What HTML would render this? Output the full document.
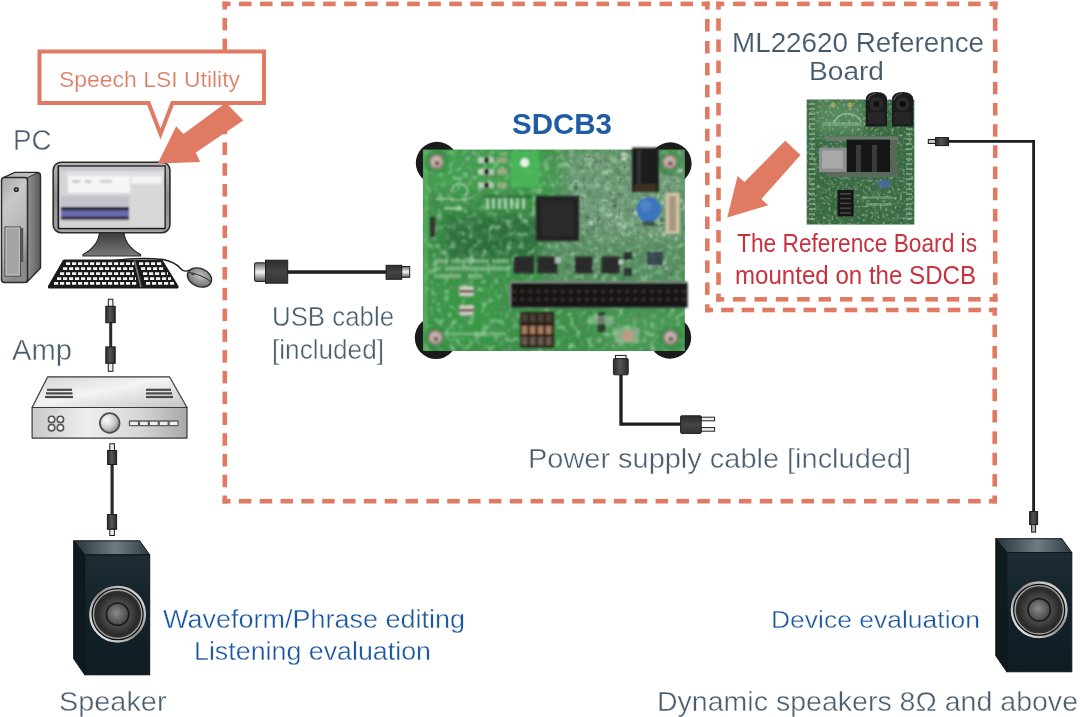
<!DOCTYPE html>
<html><head><meta charset="utf-8">
<style>
html,body{margin:0;padding:0;background:#fff;}
body{width:1080px;height:717px;overflow:hidden;position:relative;}
svg{position:absolute;left:0;top:0;}
text{font-family:"Liberation Sans",sans-serif;}
</style></head>
<body>
<svg width="1080" height="717" viewBox="0 0 1080 717">
<defs>
  <linearGradient id="gMetal" x1="0" y1="0" x2="1" y2="0">
    <stop offset="0" stop-color="#8a8a8a"/><stop offset="0.5" stop-color="#d8d8d8"/><stop offset="1" stop-color="#9a9a9a"/>
  </linearGradient>

  <linearGradient id="gFront" x1="0" y1="0" x2="0.3" y2="1">
    <stop offset="0" stop-color="#a8a8a8"/><stop offset="0.3" stop-color="#c8c8c8"/><stop offset="0.7" stop-color="#b4b4b4"/><stop offset="1" stop-color="#8a8a8a"/>
  </linearGradient>
  <linearGradient id="gSide" x1="0" y1="0" x2="1" y2="0">
    <stop offset="0" stop-color="#3a3a3a"/><stop offset="0.7" stop-color="#8a8a8a"/><stop offset="1" stop-color="#5a5a5a"/>
  </linearGradient>
  <linearGradient id="gBezel" x1="0" y1="0" x2="0" y2="1">
    <stop offset="0" stop-color="#b5b5b5"/><stop offset="0.5" stop-color="#8d8d8d"/><stop offset="1" stop-color="#a5a5a5"/>
  </linearGradient>
  <linearGradient id="gStand" x1="0" y1="0" x2="0" y2="1">
    <stop offset="0" stop-color="#3a3a3a"/><stop offset="1" stop-color="#7a7a7a"/>
  </linearGradient>
  <radialGradient id="gMouse" cx="0.5" cy="0.4" r="0.6">
    <stop offset="0" stop-color="#c4c4c4"/><stop offset="1" stop-color="#6e6e6e"/>
  </radialGradient>

  <linearGradient id="gAmpTop" x1="0" y1="0" x2="1" y2="1">
    <stop offset="0" stop-color="#d4d4d4"/><stop offset="0.45" stop-color="#f4f4f4"/><stop offset="1" stop-color="#c4c4c4"/>
  </linearGradient>
  <linearGradient id="gAmpFront" x1="0" y1="0" x2="1" y2="0">
    <stop offset="0" stop-color="#c8c8c8"/><stop offset="0.35" stop-color="#efefef"/><stop offset="0.7" stop-color="#d6d6d6"/><stop offset="1" stop-color="#a8a8a8"/>
  </linearGradient>
  <radialGradient id="gKnob" cx="0.35" cy="0.35" r="0.7">
    <stop offset="0" stop-color="#ffffff"/><stop offset="0.6" stop-color="#c9c9c9"/><stop offset="1" stop-color="#8a8a8a"/>
  </radialGradient>
  <linearGradient id="gSpkTop" x1="0" y1="0" x2="1" y2="0">
    <stop offset="0" stop-color="#26343a"/><stop offset="0.55" stop-color="#6f7d83"/><stop offset="1" stop-color="#2e3c42"/>
  </linearGradient>
  <linearGradient id="gSpkFront" x1="0" y1="0" x2="0" y2="1">
    <stop offset="0" stop-color="#1d2d33"/><stop offset="0.5" stop-color="#13222a"/><stop offset="1" stop-color="#0f1c22"/>
  </linearGradient>
  <radialGradient id="gCone" cx="0.5" cy="0.5" r="0.5">
    <stop offset="0" stop-color="#5a5a5a"/><stop offset="0.5" stop-color="#4a4a4a"/><stop offset="0.85" stop-color="#2a2a2a"/><stop offset="1" stop-color="#333"/>
  </radialGradient>
  <linearGradient id="gRing" x1="0" y1="1" x2="1" y2="0">
    <stop offset="0" stop-color="#ffffff"/><stop offset="0.5" stop-color="#8a8a8a"/><stop offset="1" stop-color="#f0f0f0"/>
  </linearGradient>
  <radialGradient id="gCap" cx="0.45" cy="0.45" r="0.6">
    <stop offset="0" stop-color="#8a8a8a"/><stop offset="1" stop-color="#404040"/>
  </radialGradient>
  <linearGradient id="gPlug" x1="0" y1="0" x2="1" y2="0">
    <stop offset="0" stop-color="#2c2c2c"/><stop offset="0.45" stop-color="#555"/><stop offset="1" stop-color="#2a2a2a"/>
  </linearGradient>
  <g id="spk">
    <path d="M0 0 L66 0 L76 14 L11 14 Z" fill="url(#gSpkTop)" stroke="#0c1418" stroke-width="1"/>
    <path d="M0 0 L11 14 L11 134 L0 118 Z" fill="#0e1a1e" stroke="#0c1418" stroke-width="1"/>
    <rect x="11" y="14" width="65" height="120" fill="url(#gSpkFront)" stroke="#0c1418" stroke-width="1"/>
    
  </g>

  <linearGradient id="gMetalV" x1="0" y1="0" x2="0" y2="1">
    <stop offset="0" stop-color="#6a6a6a"/><stop offset="0.5" stop-color="#f4f4f4"/><stop offset="1" stop-color="#5a5a5a"/>
  </linearGradient>
  <linearGradient id="gPlugV" x1="0" y1="0" x2="0" y2="1">
    <stop offset="0" stop-color="#2c2c2c"/><stop offset="0.5" stop-color="#444"/><stop offset="1" stop-color="#353535"/>
  </linearGradient>

  <filter id="blurB" x="-5%" y="-5%" width="110%" height="110%"><feGaussianBlur stdDeviation="1.0"/></filter>

  <filter id="blurR" x="-5%" y="-5%" width="110%" height="110%"><feGaussianBlur stdDeviation="0.6"/></filter>

  <clipPath id="clipB"><rect x="423" y="149.7" width="261.7" height="201.3"/></clipPath>
  <clipPath id="clipR"><rect x="806.7" y="99.6" width="107.6" height="124.9"/></clipPath>

  <filter id="blurBig" x="-20%" y="-20%" width="140%" height="140%"><feGaussianBlur stdDeviation="6"/></filter>
  <filter id="noiseDark" x="0" y="0" width="100%" height="100%">
    <feTurbulence type="fractalNoise" baseFrequency="0.14" numOctaves="2" seed="3"/>
    <feColorMatrix type="matrix" values="0 0 0 0 0.1  0 0 0 0 0.25  0 0 0 0 0.12  2.2 0 0 0 -1.05"/>
    <feGaussianBlur stdDeviation="0.9"/>
  </filter>
  <filter id="noiseLight" x="0" y="0" width="100%" height="100%">
    <feTurbulence type="fractalNoise" baseFrequency="0.16" numOctaves="2" seed="9"/>
    <feColorMatrix type="matrix" values="0 0 0 0 0.45  0 0 0 0 0.78  0 0 0 0 0.5  2.2 0 0 0 -1.15"/>
    <feGaussianBlur stdDeviation="0.9"/>
  </filter>
  <filter id="noiseLight2" x="0" y="0" width="100%" height="100%">
    <feTurbulence type="fractalNoise" baseFrequency="0.2" numOctaves="2" seed="21"/>
    <feColorMatrix type="matrix" values="0 0 0 0 0.8  0 0 0 0 0.88  0 0 0 0 0.8  2.0 0 0 0 -1.15"/>
    <feGaussianBlur stdDeviation="0.8"/>
  </filter>
  <filter id="noiseDark2" x="0" y="0" width="100%" height="100%">
    <feTurbulence type="fractalNoise" baseFrequency="0.22" numOctaves="2" seed="33"/>
    <feColorMatrix type="matrix" values="0 0 0 0 0.12  0 0 0 0 0.2  0 0 0 0 0.14  2.6 0 0 0 -1.3"/>
    <feGaussianBlur stdDeviation="0.7"/>
  </filter>
  <filter id="noiseFine" x="0" y="0" width="100%" height="100%">
    <feTurbulence type="fractalNoise" baseFrequency="0.35" numOctaves="1" seed="5"/>
    <feColorMatrix type="matrix" values="0 0 0 0 0.6  0 0 0 0 0.78  0 0 0 0 0.62  2.4 0 0 0 -1.3"/>
    <feGaussianBlur stdDeviation="0.6"/>
  </filter>
<g id="drv"><circle cx="0" cy="0" r="28.6" fill="#0e0e0e"/>
    <circle cx="0" cy="0" r="27.3" fill="none" stroke="url(#gRing)" stroke-width="2.4"/>
    <circle cx="0" cy="0" r="24.2" fill="url(#gCone)" stroke="#a8a8a8" stroke-width="1.3"/>
    <circle cx="0" cy="0" r="11.2" fill="url(#gCap)" stroke="#1a1a1a" stroke-width="1.6"/></g>
  <clipPath id="clipScr"><rect x="59.2" y="166.8" width="105.2" height="61"/></clipPath>
  <filter id="blurS" x="-5%" y="-5%" width="110%" height="110%"><feGaussianBlur stdDeviation="0.8"/></filter>
</defs>


<!-- PC tower -->
<g id="tower">
  <path d="M3 178 L15 172.5 L38 172.5 Q40.5 173 40.5 176 L40.5 268 L27 282 Z" fill="url(#gSide)" stroke="#2a2a2a" stroke-width="1.4" stroke-linejoin="round"/>
  <path d="M3 178 L15 172.5 L38 172.5 L27 178 Z" fill="#bcbcbc" stroke="#2a2a2a" stroke-width="1"/>
  <rect x="1.5" y="177.5" width="26" height="105" rx="3" fill="url(#gFront)" stroke="#2a2a2a" stroke-width="1.5"/>
  <circle cx="16.3" cy="189.5" r="2.6" fill="#2a2a2a"/>
  <circle cx="16.3" cy="189.5" r="1" fill="#999"/>
  <rect x="5" y="227" width="15.3" height="49" fill="#a4a4a4" stroke="#3a3a3a" stroke-width="1"/><rect x="6" y="228" width="13.3" height="47" fill="none" stroke="#d8d8d8" stroke-width="0.8"/>
  <rect x="21" y="228" width="2.2" height="34" fill="#555"/>
</g>
<!-- monitor -->
<g id="monitor">
  <path d="M99.6 232 L123.9 232 Q125 246 140.5 254.5 L140.5 256 L83 256 L83 254.5 Q98.5 246 99.6 232 Z" fill="url(#gStand)" stroke="#2a2a2a" stroke-width="1.2"/>
  <rect x="53.2" y="162.2" width="116.7" height="70.5" rx="8" fill="url(#gBezel)" stroke="#2a2a2a" stroke-width="1.6"/>
  <rect x="57.5" y="165.3" width="108.3" height="64" fill="#1e1e1e"/>
  <rect x="59.2" y="166.8" width="105.2" height="61" fill="#d4d4d8"/>
  <g clip-path="url(#clipScr)"><g filter="url(#blurS)">
  <rect x="59" y="166" width="106" height="5" fill="#c4c4cc"/>
  <rect x="66" y="171" width="98" height="5" fill="#dedee4"/>
  <rect x="68" y="176" width="62" height="17" fill="#f6f6f6"/>
  <rect x="72" y="180" width="8" height="3" fill="#c8c8c8"/><rect x="85" y="180" width="6" height="3" fill="#c8c8c8"/><rect x="100" y="180" width="12" height="3" fill="#d0d0d0"/>
  <rect x="131" y="176" width="31" height="8" fill="#f2f2f2"/>
  <rect x="130" y="186" width="34" height="40" fill="#d8d8d6"/>
  <rect x="61" y="196" width="68" height="10" fill="#c2c2cc"/>
  <rect x="61" y="207" width="68" height="13" fill="#22222e"/>
  <rect x="61" y="210.3" width="68" height="6.4" fill="#6a6ab0"/>
  <rect x="61" y="220" width="68" height="7" fill="#d4d4d6"/>
  </g></g>
</g>
<!-- keyboard -->
<g id="keyboard">
  <path d="M63.5 260 L162 260 L178 286 L178 288 L48.5 288 L48.5 286 Z" fill="#1a1a1a" stroke="#1a1a1a" stroke-width="1" stroke-linejoin="round"/>
  <g stroke="#f2f2f2" stroke-width="2.6" stroke-dasharray="4.2 1.8">
    <line x1="66" y1="263.6" x2="134" y2="263.6"/>
    <line x1="63" y1="268.6" x2="134" y2="268.6"/>
    <line x1="60" y1="273.6" x2="134" y2="273.6"/>
    <line x1="57" y1="278.6" x2="136" y2="278.6"/>
    <line x1="54" y1="283.4" x2="137" y2="283.4"/>
    <line x1="139" y1="263.6" x2="162" y2="263.6"/>
    <line x1="141" y1="268.6" x2="165" y2="268.6"/>
    <line x1="143" y1="273.6" x2="168" y2="273.6"/>
    <line x1="144" y1="278.6" x2="171" y2="278.6"/>
    <line x1="146" y1="283.4" x2="174" y2="283.4"/>
  </g>
  <path d="M134.5 260.5 L141 287" stroke="#777" stroke-width="1.6"/>
</g>
<!-- mouse -->
<path d="M114 260.5 Q140 257 163 259.5 Q175 262 180 268 Q184 273 189 270" fill="none" stroke="#1a1a1a" stroke-width="1.3"/>
<g transform="rotate(22 199.5 277.5)">
  <ellipse cx="199.5" cy="277.5" rx="12.5" ry="9" fill="url(#gMouse)" stroke="#2a2a2a" stroke-width="1.4"/>
  <path d="M187.5 277 Q199 274 211.5 277" fill="none" stroke="#333" stroke-width="0.9"/>
  <ellipse cx="192" cy="276.5" rx="2" ry="1.2" fill="#444"/>
</g>


<!-- cable PC-amp -->
<g stroke="#1a1a1a" stroke-width="1">
  <rect x="109.2" y="322" width="3" height="25" fill="#2a2a2a" stroke="none"/>
  <rect x="108.3" y="299.2" width="4.6" height="7.4" fill="#eee"/>
  <rect x="105.8" y="306.3" width="9.4" height="16.4" fill="url(#gPlug)"/>
  <rect x="105.8" y="346.9" width="9.4" height="16.4" fill="url(#gPlug)"/>
  <rect x="108.3" y="363.3" width="4.6" height="8" fill="#eee"/>
</g>
<!-- amp -->
<g id="amp" stroke="#3a3a3a" stroke-width="1.2" stroke-linejoin="round">
  <path d="M47.7 376.8 L169.5 376.8 L187 407.5 L32.1 407.5 Z" fill="url(#gAmpTop)"/>
  <rect x="32.1" y="407.5" width="154.9" height="30.6" fill="url(#gAmpFront)"/>
  <g stroke="#4a4a4a" stroke-width="2.2">
    <line x1="47" y1="389.8" x2="72" y2="389.8"/><line x1="46" y1="393.4" x2="72.5" y2="393.4"/><line x1="45" y1="397" x2="73" y2="397"/>
    <line x1="146" y1="389.8" x2="171" y2="389.8"/><line x1="146" y1="393.4" x2="172" y2="393.4"/><line x1="146" y1="397" x2="173" y2="397"/>
  </g>
  <g fill="#f4f4f4" stroke="#555" stroke-width="1.6">
    <circle cx="51.6" cy="419.4" r="3.2"/><circle cx="60.4" cy="419.4" r="3.2"/>
    <circle cx="51.6" cy="427.7" r="3.2"/><circle cx="60.4" cy="427.7" r="3.2"/>
  </g>
  <circle cx="109.7" cy="423" r="9.8" fill="url(#gKnob)" stroke="#505050" stroke-width="1.8"/>
  <g fill="#f0f0f0" stroke="#5a5a5a" stroke-width="1.3">
    <rect x="129.5" y="421" width="9" height="4.6"/><rect x="139.4" y="421" width="9" height="4.6"/>
    <rect x="149.3" y="421" width="9" height="4.6"/><rect x="159.2" y="421" width="9" height="4.6"/>
    <rect x="169.1" y="421" width="9" height="4.6"/>
  </g>
</g>
<!-- cable amp-speaker -->
<g stroke="#1a1a1a" stroke-width="1">
  <rect x="110.5" y="464" width="3.2" height="51" fill="#2a2a2a" stroke="none"/>
  <rect x="109.8" y="443.8" width="4.6" height="6.8" fill="#eee"/>
  <rect x="107.6" y="450.5" width="9" height="14" fill="url(#gPlug)"/>
  <rect x="107.4" y="514.6" width="9.2" height="14.7" fill="url(#gPlug)"/>
  <rect x="109.8" y="529.3" width="4.6" height="6.2" fill="#eee"/>
</g>
<!-- speakers -->
<use href="#spk" transform="translate(73.7 540.8)"/><use href="#drv" transform="translate(117.6 614.2)"/>
<use href="#spk" transform="translate(995.8 538.7) scale(1 0.993)"/><use href="#drv" transform="translate(1039.2 609.8)"/>
<!-- cable refboard-speaker -->
<path d="M948 141.3 H1033.6 V512" fill="none" stroke="#1e1e1e" stroke-width="2.8"/>
<rect x="928.3" y="139.5" width="7.5" height="4" fill="#c4c4c4" stroke="#1a1a1a" stroke-width="1"/>
<rect x="935.5" y="137.6" width="13" height="8" fill="url(#gPlug)" stroke="#1a1a1a" stroke-width="1"/>
<rect x="1029.6" y="511.6" width="8" height="13" fill="url(#gPlug)" stroke="#1a1a1a" stroke-width="1"/>
<rect x="1031.6" y="524.5" width="4" height="7.6" fill="#aaa" stroke="#1a1a1a" stroke-width="1"/>


<!-- SDCB board -->
<g fill="#1b1b1b"><circle cx="437" cy="163" r="21.2"/><circle cx="670.4" cy="163.5" r="21.2"/><circle cx="436" cy="337.8" r="21.2"/><circle cx="670" cy="337.5" r="21.2"/></g><rect x="423" y="149.7" width="261.7" height="201.3" fill="#3a9046"/><g clip-path="url(#clipB)"><g filter="url(#blurBig)"><rect x="425" y="150" width="135" height="40" fill="#42a050"/><rect x="445" y="215" width="95" height="45" fill="#2c6e3a"/><rect x="565" y="150" width="120" height="90" fill="#6e9c76"/><rect x="545" y="238" width="140" height="44" fill="#55905e"/><rect x="430" y="285" width="75" height="60" fill="#379845"/><rect x="600" y="312" width="85" height="38" fill="#4a9a55"/></g><rect x="423" y="149.7" width="262" height="202" filter="url(#noiseDark)"/><rect x="423" y="149.7" width="262" height="202" filter="url(#noiseLight)"/><rect x="560" y="149.7" width="125" height="135" filter="url(#noiseLight2)" opacity="0.7"/><rect x="545" y="149.7" width="140" height="135" filter="url(#noiseDark2)"/><g filter="url(#blurB)"><rect x="423" y="149.7" width="5" height="201.3" fill="#5ab865" opacity="0.6"/><rect x="601.5" y="171.3" width="4.0" height="1.7" fill="#e8ece4" opacity="0.44"/><rect x="633.1" y="268.4" width="2.6" height="1.7" fill="#a8c8aa" opacity="0.43"/><rect x="573.1" y="206.3" width="4.5" height="1.8" fill="#3a5a40" opacity="0.65"/><rect x="633.1" y="159.9" width="3.8" height="1.6" fill="#3a5a40" opacity="0.42"/><rect x="666.7" y="189.1" width="2.4" height="1.8" fill="#2a4230" opacity="0.62"/><rect x="645.2" y="165.2" width="3.7" height="2.0" fill="#d0dcd0" opacity="0.62"/><rect x="569.7" y="159.6" width="2.6" height="3.2" fill="#a8c8aa" opacity="0.71"/><rect x="618.8" y="270.2" width="3.1" height="2.1" fill="#3a5a40" opacity="0.68"/><rect x="591.8" y="225.5" width="3.6" height="3.7" fill="#4a7a52" opacity="0.58"/><rect x="636.3" y="161.4" width="3.5" height="1.9" fill="#2a4230" opacity="0.46"/><rect x="621.7" y="157.0" width="4.0" height="3.4" fill="#e8ece4" opacity="0.72"/><rect x="661.8" y="195.5" width="3.1" height="2.7" fill="#a8c8aa" opacity="0.43"/><rect x="573.4" y="186.6" width="4.1" height="1.7" fill="#4a7a52" opacity="0.68"/><rect x="640.9" y="279.1" width="4.5" height="2.2" fill="#a8c8aa" opacity="0.75"/><rect x="604.3" y="272.4" width="3.1" height="3.0" fill="#a8c8aa" opacity="0.42"/><rect x="655.7" y="168.6" width="2.7" height="2.5" fill="#a8c8aa" opacity="0.43"/><rect x="616.8" y="222.3" width="4.7" height="3.5" fill="#e8ece4" opacity="0.51"/><rect x="612.7" y="197.9" width="4.7" height="3.9" fill="#3a5a40" opacity="0.43"/><rect x="580.5" y="236.3" width="2.0" height="3.6" fill="#3a5a40" opacity="0.51"/><rect x="562.5" y="205.6" width="3.1" height="2.9" fill="#3a5a40" opacity="0.68"/><rect x="624.9" y="231.1" width="4.0" height="1.6" fill="#4a7a52" opacity="0.72"/><rect x="609.9" y="203.1" width="2.3" height="3.1" fill="#d0dcd0" opacity="0.48"/><rect x="682.1" y="208.4" width="2.3" height="3.0" fill="#d0dcd0" opacity="0.40"/><rect x="580.5" y="165.0" width="3.1" height="1.6" fill="#3a5a40" opacity="0.65"/><rect x="580.1" y="184.3" width="3.0" height="2.4" fill="#d0dcd0" opacity="0.45"/><rect x="621.5" y="277.2" width="3.4" height="2.3" fill="#3a5a40" opacity="0.44"/><rect x="603.8" y="185.9" width="4.5" height="1.9" fill="#d0dcd0" opacity="0.48"/><rect x="678.1" y="198.3" width="4.1" height="3.8" fill="#e8ece4" opacity="0.52"/><rect x="640.4" y="163.6" width="4.5" height="2.8" fill="#3a5a40" opacity="0.54"/><rect x="589.2" y="221.3" width="3.5" height="3.1" fill="#e8ece4" opacity="0.72"/><rect x="682.2" y="261.1" width="4.4" height="3.5" fill="#4a7a52" opacity="0.72"/><rect x="586.4" y="215.1" width="4.2" height="4.0" fill="#2a4230" opacity="0.59"/><rect x="585.6" y="229.5" width="3.0" height="3.5" fill="#4a7a52" opacity="0.80"/><rect x="678.5" y="198.7" width="2.7" height="2.1" fill="#3a5a40" opacity="0.54"/><rect x="620.9" y="278.1" width="3.8" height="1.5" fill="#4a7a52" opacity="0.54"/><rect x="640.5" y="258.8" width="2.4" height="2.5" fill="#4a7a52" opacity="0.70"/><rect x="620.3" y="174.9" width="4.4" height="2.3" fill="#4a7a52" opacity="0.56"/><rect x="611.0" y="273.2" width="4.2" height="1.9" fill="#3a5a40" opacity="0.41"/><rect x="634.1" y="211.6" width="4.0" height="3.0" fill="#e8ece4" opacity="0.79"/><rect x="642.2" y="196.9" width="3.6" height="1.8" fill="#d0dcd0" opacity="0.72"/><rect x="650.6" y="165.2" width="4.2" height="1.8" fill="#3a5a40" opacity="0.73"/><rect x="587.7" y="184.2" width="2.9" height="2.1" fill="#e8ece4" opacity="0.53"/><rect x="628.4" y="258.8" width="2.2" height="3.3" fill="#a8c8aa" opacity="0.66"/><rect x="661.4" y="218.1" width="4.5" height="3.7" fill="#3a5a40" opacity="0.61"/><rect x="625.9" y="154.4" width="3.3" height="2.0" fill="#d0dcd0" opacity="0.71"/><rect x="580.3" y="170.1" width="3.9" height="1.8" fill="#d0dcd0" opacity="0.53"/><rect x="625.2" y="223.1" width="4.4" height="1.8" fill="#e8ece4" opacity="0.42"/><rect x="585.3" y="157.4" width="2.3" height="2.6" fill="#d0dcd0" opacity="0.70"/><rect x="673.3" y="208.7" width="3.8" height="2.8" fill="#e8ece4" opacity="0.48"/><rect x="595.8" y="217.0" width="4.4" height="2.8" fill="#3a5a40" opacity="0.68"/><rect x="668.9" y="272.6" width="2.8" height="2.9" fill="#3a5a40" opacity="0.74"/><rect x="578.7" y="167.6" width="3.3" height="1.7" fill="#3a5a40" opacity="0.57"/><rect x="587.9" y="190.8" width="2.4" height="3.4" fill="#4a7a52" opacity="0.66"/><rect x="606.7" y="184.4" width="2.4" height="2.7" fill="#4a7a52" opacity="0.78"/><rect x="610.6" y="214.4" width="5.0" height="3.6" fill="#3a5a40" opacity="0.68"/><rect x="683.3" y="203.7" width="3.3" height="2.4" fill="#d0dcd0" opacity="0.69"/><rect x="564.4" y="222.9" width="3.3" height="1.5" fill="#2a4230" opacity="0.61"/><rect x="598.0" y="275.0" width="2.3" height="3.8" fill="#3a5a40" opacity="0.79"/><rect x="574.8" y="186.0" width="2.1" height="3.4" fill="#2a4230" opacity="0.70"/><rect x="662.0" y="260.7" width="4.0" height="3.9" fill="#a8c8aa" opacity="0.46"/><rect x="674.1" y="225.0" width="4.1" height="1.7" fill="#d0dcd0" opacity="0.72"/><rect x="584.4" y="266.6" width="2.8" height="1.5" fill="#d0dcd0" opacity="0.72"/><rect x="572.2" y="261.6" width="2.2" height="3.7" fill="#a8c8aa" opacity="0.40"/><rect x="683.3" y="205.5" width="4.7" height="3.1" fill="#d0dcd0" opacity="0.61"/><rect x="591.1" y="166.0" width="2.5" height="1.6" fill="#3a5a40" opacity="0.77"/><rect x="638.7" y="220.0" width="2.6" height="2.6" fill="#4a7a52" opacity="0.47"/><rect x="604.3" y="154.3" width="2.8" height="1.5" fill="#4a7a52" opacity="0.60"/><rect x="681.3" y="217.8" width="2.7" height="2.6" fill="#4a7a52" opacity="0.73"/><rect x="614.7" y="215.4" width="4.5" height="2.5" fill="#e8ece4" opacity="0.52"/><rect x="588.3" y="181.4" width="2.6" height="3.7" fill="#4a7a52" opacity="0.65"/><rect x="611.4" y="196.5" width="2.2" height="1.8" fill="#d0dcd0" opacity="0.65"/><rect x="669.3" y="207.1" width="2.2" height="3.2" fill="#a8c8aa" opacity="0.75"/><rect x="643.8" y="188.1" width="2.7" height="2.2" fill="#a8c8aa" opacity="0.47"/><rect x="594.8" y="152.5" width="3.1" height="2.3" fill="#e8ece4" opacity="0.53"/><rect x="566.2" y="264.9" width="2.7" height="2.0" fill="#2a4230" opacity="0.55"/><rect x="619.9" y="216.4" width="2.6" height="2.8" fill="#d0dcd0" opacity="0.44"/><rect x="661.7" y="170.4" width="3.8" height="2.5" fill="#2a4230" opacity="0.52"/><rect x="590.4" y="227.0" width="3.6" height="3.4" fill="#4a7a52" opacity="0.76"/><rect x="657.7" y="228.4" width="4.3" height="3.3" fill="#a8c8aa" opacity="0.46"/><rect x="650.3" y="234.3" width="2.1" height="3.6" fill="#e8ece4" opacity="0.65"/><rect x="651.5" y="256.0" width="2.4" height="2.8" fill="#e8ece4" opacity="0.63"/><rect x="661.2" y="154.1" width="4.1" height="3.5" fill="#4a7a52" opacity="0.67"/><rect x="646.6" y="181.4" width="2.1" height="1.8" fill="#2a4230" opacity="0.78"/><rect x="607.9" y="209.8" width="2.2" height="1.5" fill="#e8ece4" opacity="0.67"/><rect x="621.7" y="152.4" width="4.4" height="3.4" fill="#e8ece4" opacity="0.76"/><rect x="573.2" y="219.3" width="4.2" height="2.7" fill="#d0dcd0" opacity="0.74"/><rect x="590.6" y="248.8" width="2.7" height="3.1" fill="#a8c8aa" opacity="0.60"/><rect x="608.7" y="213.3" width="4.1" height="3.4" fill="#e8ece4" opacity="0.65"/><rect x="586.2" y="228.8" width="3.0" height="3.1" fill="#4a7a52" opacity="0.52"/><rect x="631.3" y="153.6" width="2.2" height="2.2" fill="#4a7a52" opacity="0.44"/><rect x="588.6" y="214.7" width="4.1" height="2.2" fill="#a8c8aa" opacity="0.59"/><rect x="576.5" y="266.4" width="2.6" height="3.9" fill="#a8c8aa" opacity="0.41"/><rect x="618.0" y="256.9" width="4.9" height="2.6" fill="#2a4230" opacity="0.55"/><rect x="673.8" y="271.1" width="2.2" height="1.7" fill="#4a7a52" opacity="0.61"/><rect x="678.2" y="169.0" width="4.5" height="2.8" fill="#d0dcd0" opacity="0.68"/><rect x="590.2" y="266.9" width="3.5" height="1.6" fill="#d0dcd0" opacity="0.78"/><rect x="645.2" y="203.9" width="4.2" height="2.5" fill="#a8c8aa" opacity="0.53"/><rect x="664.5" y="152.2" width="4.3" height="3.6" fill="#d0dcd0" opacity="0.78"/><rect x="585.9" y="153.5" width="4.2" height="2.1" fill="#d0dcd0" opacity="0.56"/><rect x="683.9" y="227.4" width="3.1" height="2.6" fill="#2a4230" opacity="0.74"/><rect x="596.2" y="158.6" width="4.0" height="3.1" fill="#3a5a40" opacity="0.50"/><rect x="594.4" y="217.4" width="2.6" height="2.4" fill="#a8c8aa" opacity="0.75"/><rect x="661.1" y="232.8" width="4.7" height="3.9" fill="#e8ece4" opacity="0.48"/><rect x="571.8" y="271.5" width="3.2" height="3.0" fill="#3a5a40" opacity="0.66"/><rect x="596.9" y="158.3" width="4.8" height="1.8" fill="#a8c8aa" opacity="0.57"/><rect x="596.4" y="184.7" width="4.2" height="3.1" fill="#a8c8aa" opacity="0.66"/><rect x="598.7" y="223.3" width="3.2" height="1.9" fill="#3a5a40" opacity="0.43"/><rect x="623.1" y="255.9" width="3.7" height="2.6" fill="#2a4230" opacity="0.80"/><rect x="616.9" y="169.9" width="2.6" height="1.7" fill="#2a4230" opacity="0.62"/><rect x="601.0" y="199.1" width="4.4" height="2.0" fill="#d0dcd0" opacity="0.70"/><rect x="612.4" y="205.0" width="3.6" height="2.4" fill="#2a4230" opacity="0.70"/><rect x="622.8" y="225.5" width="3.1" height="3.2" fill="#e8ece4" opacity="0.65"/><rect x="667.3" y="179.6" width="2.8" height="2.1" fill="#a8c8aa" opacity="0.66"/><rect x="614.7" y="191.9" width="4.4" height="3.9" fill="#3a5a40" opacity="0.41"/><rect x="648.6" y="266.6" width="3.4" height="3.0" fill="#d0dcd0" opacity="0.43"/><rect x="675.5" y="270.8" width="3.6" height="2.7" fill="#a8c8aa" opacity="0.50"/><rect x="575.3" y="171.8" width="3.6" height="3.2" fill="#4a7a52" opacity="0.68"/><rect x="665.3" y="266.5" width="2.3" height="3.4" fill="#d0dcd0" opacity="0.71"/><rect x="590.4" y="269.7" width="3.9" height="2.3" fill="#3a5a40" opacity="0.65"/><rect x="626.4" y="208.0" width="4.3" height="1.7" fill="#2a4230" opacity="0.61"/><circle cx="436.5" cy="161.8" r="12" fill="#2f8e3e" opacity="0.7"/><circle cx="436.5" cy="161.8" r="7.8" fill="#8a7a74"/><circle cx="436.5" cy="161.8" r="5.8" fill="#c4b2aa"/><circle cx="437.0" cy="163.3" r="2.6" fill="#7a6660"/><circle cx="669.7" cy="162" r="12" fill="#2f8e3e" opacity="0.7"/><circle cx="669.7" cy="162" r="7.8" fill="#8a7a74"/><circle cx="669.7" cy="162" r="5.8" fill="#c4b2aa"/><circle cx="670.2" cy="163.5" r="2.6" fill="#7a6660"/><circle cx="435.5" cy="337.5" r="12" fill="#2f8e3e" opacity="0.7"/><circle cx="435.5" cy="337.5" r="7.8" fill="#8a7a74"/><circle cx="435.5" cy="337.5" r="5.8" fill="#c4b2aa"/><circle cx="436.0" cy="339.0" r="2.6" fill="#7a6660"/><circle cx="670.5" cy="337.5" r="12" fill="#2f8e3e" opacity="0.7"/><circle cx="670.5" cy="337.5" r="7.8" fill="#8a7a74"/><circle cx="670.5" cy="337.5" r="5.8" fill="#c4b2aa"/><circle cx="671.0" cy="339.0" r="2.6" fill="#7a6660"/><rect x="511" y="151" width="28" height="36" fill="#48b858" opacity="0.85"/><circle cx="524.7" cy="162.6" r="4.4" fill="#e8f4ea"/><rect x="478" y="157.1" width="8" height="6" fill="#d8d8d0" opacity="0.8"/><rect x="484" y="157.6" width="5" height="5" fill="#222"/><rect x="489" y="157.1" width="5" height="6" fill="#d8d8d0" opacity="0.7"/><rect x="497" y="157.1" width="10" height="6" fill="#c8b0a0" opacity="0.6"/><rect x="478" y="168.8" width="8" height="6" fill="#d8d8d0" opacity="0.8"/><rect x="484" y="169.3" width="5" height="5" fill="#222"/><rect x="489" y="168.8" width="5" height="6" fill="#d8d8d0" opacity="0.7"/><rect x="497" y="168.8" width="10" height="6" fill="#c8b0a0" opacity="0.6"/><rect x="478" y="182.2" width="8" height="6" fill="#d8d8d0" opacity="0.8"/><rect x="484" y="182.7" width="5" height="5" fill="#222"/><rect x="489" y="182.2" width="5" height="6" fill="#d8d8d0" opacity="0.7"/><rect x="497" y="182.2" width="10" height="6" fill="#c8b0a0" opacity="0.6"/><rect x="486.0" y="198" width="3" height="11" fill="#c8e4cc" opacity="0.75"/><rect x="492.0" y="198" width="3" height="11" fill="#c8e4cc" opacity="0.75"/><rect x="498.0" y="198" width="3" height="11" fill="#c8e4cc" opacity="0.75"/><rect x="504.0" y="198" width="3" height="11" fill="#c8e4cc" opacity="0.75"/><rect x="510.0" y="198" width="3" height="11" fill="#c8e4cc" opacity="0.75"/><rect x="516.0" y="198" width="3" height="11" fill="#c8e4cc" opacity="0.75"/><rect x="522.0" y="198" width="3" height="11" fill="#c8e4cc" opacity="0.75"/><rect x="482" y="195.5" width="50" height="3" fill="#1e5a28" opacity="0.6"/><path d="M452 193 a8 7 0 1 1 13 3" fill="none" stroke="#d0ecd4" stroke-width="1.3" opacity="0.8"/><path d="M436 199 h16 q10 3 22 -2" fill="none" stroke="#d0ecd4" stroke-width="1.3" opacity="0.7"/><rect x="430" y="217" width="5" height="20" fill="#3a3030"/><rect x="444" y="207" width="18" height="2.5" fill="#c0e0c0" opacity="0.7"/><rect x="434.5" y="259" width="2.6" height="4.2" fill="#cfe8d2" opacity="0.5"/><rect x="437.9" y="259" width="2.6" height="4.2" fill="#cfe8d2" opacity="0.5"/><rect x="441.3" y="259" width="2.6" height="4.2" fill="#cfe8d2" opacity="0.5"/><rect x="444.7" y="259" width="2.6" height="4.2" fill="#cfe8d2" opacity="0.5"/><rect x="451.6" y="259" width="2.6" height="4.2" fill="#cfe8d2" opacity="0.5"/><rect x="455.0" y="259" width="2.6" height="4.2" fill="#cfe8d2" opacity="0.5"/><rect x="458.4" y="259" width="2.6" height="4.2" fill="#cfe8d2" opacity="0.5"/><rect x="461.8" y="259" width="2.6" height="4.2" fill="#cfe8d2" opacity="0.5"/><rect x="465.2" y="259" width="2.6" height="4.2" fill="#cfe8d2" opacity="0.5"/><rect x="468.6" y="259" width="2.6" height="4.2" fill="#cfe8d2" opacity="0.5"/><rect x="472.0" y="259" width="2.6" height="4.2" fill="#cfe8d2" opacity="0.5"/><rect x="475.4" y="259" width="2.6" height="4.2" fill="#cfe8d2" opacity="0.5"/><rect x="478.8" y="259" width="2.6" height="4.2" fill="#cfe8d2" opacity="0.5"/><rect x="482.2" y="259" width="2.6" height="4.2" fill="#cfe8d2" opacity="0.5"/><rect x="485.6" y="259" width="2.6" height="4.2" fill="#cfe8d2" opacity="0.5"/><rect x="492.5" y="259" width="2.6" height="4.2" fill="#cfe8d2" opacity="0.5"/><rect x="495.9" y="259" width="2.6" height="4.2" fill="#cfe8d2" opacity="0.5"/><rect x="499.3" y="259" width="2.6" height="4.2" fill="#cfe8d2" opacity="0.5"/><rect x="502.7" y="259" width="2.6" height="4.2" fill="#cfe8d2" opacity="0.5"/><rect x="506.1" y="259" width="2.6" height="4.2" fill="#cfe8d2" opacity="0.5"/><rect x="434.5" y="266.5" width="2.6" height="4.2" fill="#cfe8d2" opacity="0.5"/><rect x="437.9" y="266.5" width="2.6" height="4.2" fill="#cfe8d2" opacity="0.5"/><rect x="444.8" y="266.5" width="2.6" height="4.2" fill="#cfe8d2" opacity="0.5"/><rect x="448.2" y="266.5" width="2.6" height="4.2" fill="#cfe8d2" opacity="0.5"/><rect x="451.6" y="266.5" width="2.6" height="4.2" fill="#cfe8d2" opacity="0.5"/><rect x="455.0" y="266.5" width="2.6" height="4.2" fill="#cfe8d2" opacity="0.5"/><rect x="458.4" y="266.5" width="2.6" height="4.2" fill="#cfe8d2" opacity="0.5"/><rect x="461.8" y="266.5" width="2.6" height="4.2" fill="#cfe8d2" opacity="0.5"/><rect x="465.2" y="266.5" width="2.6" height="4.2" fill="#cfe8d2" opacity="0.5"/><rect x="468.6" y="266.5" width="2.6" height="4.2" fill="#cfe8d2" opacity="0.5"/><rect x="472.0" y="266.5" width="2.6" height="4.2" fill="#cfe8d2" opacity="0.5"/><rect x="475.4" y="266.5" width="2.6" height="4.2" fill="#cfe8d2" opacity="0.5"/><rect x="478.8" y="266.5" width="2.6" height="4.2" fill="#cfe8d2" opacity="0.5"/><rect x="482.2" y="266.5" width="2.6" height="4.2" fill="#cfe8d2" opacity="0.5"/><rect x="485.6" y="266.5" width="2.6" height="4.2" fill="#cfe8d2" opacity="0.5"/><rect x="489.0" y="266.5" width="2.6" height="4.2" fill="#cfe8d2" opacity="0.5"/><rect x="492.4" y="266.5" width="2.6" height="4.2" fill="#cfe8d2" opacity="0.5"/><rect x="495.8" y="266.5" width="2.6" height="4.2" fill="#cfe8d2" opacity="0.5"/><rect x="499.2" y="266.5" width="2.6" height="4.2" fill="#cfe8d2" opacity="0.5"/><rect x="502.6" y="266.5" width="2.6" height="4.2" fill="#cfe8d2" opacity="0.5"/><rect x="506.0" y="266.5" width="2.6" height="4.2" fill="#cfe8d2" opacity="0.5"/><rect x="434.5" y="274" width="2.6" height="4.2" fill="#cfe8d2" opacity="0.5"/><rect x="437.9" y="274" width="2.6" height="4.2" fill="#cfe8d2" opacity="0.5"/><rect x="441.3" y="274" width="2.6" height="4.2" fill="#cfe8d2" opacity="0.5"/><rect x="444.7" y="274" width="2.6" height="4.2" fill="#cfe8d2" opacity="0.5"/><rect x="448.1" y="274" width="2.6" height="4.2" fill="#cfe8d2" opacity="0.5"/><rect x="451.5" y="274" width="2.6" height="4.2" fill="#cfe8d2" opacity="0.5"/><rect x="454.9" y="274" width="2.6" height="4.2" fill="#cfe8d2" opacity="0.5"/><rect x="458.3" y="274" width="2.6" height="4.2" fill="#cfe8d2" opacity="0.5"/><rect x="468.7" y="274" width="2.6" height="4.2" fill="#cfe8d2" opacity="0.5"/><rect x="472.1" y="274" width="2.6" height="4.2" fill="#cfe8d2" opacity="0.5"/><rect x="475.5" y="274" width="2.6" height="4.2" fill="#cfe8d2" opacity="0.5"/><rect x="478.9" y="274" width="2.6" height="4.2" fill="#cfe8d2" opacity="0.5"/><rect x="444" y="332" width="62" height="4" fill="#cfe8d2" opacity="0.3"/><rect x="536" y="196" width="43" height="45" fill="#222"/><rect x="541" y="201" width="33" height="35" fill="#2a2a2a"/><circle cx="648.7" cy="209.5" r="12.5" fill="#3b74bc"/><circle cx="646" cy="206" r="6" fill="#5a8ed0" opacity="0.6"/><rect x="643" y="221" width="12" height="5" fill="#333" opacity="0.7"/><rect x="665.5" y="192.7" width="14.2" height="41" fill="#d2c2a6"/><rect x="669" y="196" width="7" height="35" fill="#a89880"/><rect x="513.8" y="256.5" width="20.1" height="17" fill="#2a2a2a"/><rect x="537.3" y="256.5" width="20.0" height="17" fill="#2a2a2a"/><rect x="575" y="256.5" width="17.4" height="17" fill="#2a2a2a"/><rect x="601.4" y="256.5" width="18.0" height="17" fill="#2a2a2a"/><rect x="555" y="257" width="6" height="6" fill="#c0d0d0" opacity="0.8"/><rect x="619" y="260" width="4" height="4" fill="#e0e8e0" opacity="0.8"/><rect x="624" y="252" width="8" height="8" fill="#1e1e1e" opacity="0.8"/><rect x="624" y="268" width="8" height="8" fill="#1e1e1e" opacity="0.8"/><rect x="647" y="252" width="16" height="13" fill="#2a3448" opacity="0.8"/><rect x="520.2" y="312" width="33.7" height="35.6" fill="#2a2018"/><rect x="522.0" y="326" width="5.5" height="8" fill="#a87a5e"/><rect x="522.0" y="337" width="5.5" height="8" fill="#6a5a50"/><rect x="522.0" y="314" width="5.5" height="8" fill="#4a4038"/><rect x="530.0" y="326" width="5.5" height="8" fill="#a87a5e"/><rect x="530.0" y="337" width="5.5" height="8" fill="#6a5a50"/><rect x="530.0" y="314" width="5.5" height="8" fill="#4a4038"/><rect x="538.0" y="326" width="5.5" height="8" fill="#a87a5e"/><rect x="538.0" y="337" width="5.5" height="8" fill="#6a5a50"/><rect x="538.0" y="314" width="5.5" height="8" fill="#4a4038"/><rect x="546.0" y="326" width="5.5" height="8" fill="#a87a5e"/><rect x="546.0" y="337" width="5.5" height="8" fill="#6a5a50"/><rect x="546.0" y="314" width="5.5" height="8" fill="#4a4038"/><rect x="459.3" y="286.2" width="14.4" height="10" fill="#d4ccc4"/><rect x="459.3" y="290.0" width="14.4" height="2.4" fill="#4a3a34"/><rect x="459.3" y="305.2" width="14.4" height="10" fill="#d4ccc4"/><rect x="459.3" y="309.0" width="14.4" height="2.4" fill="#4a3a34"/><rect x="615" y="328" width="24" height="15" fill="#a8c0a8" opacity="0.6"/><circle cx="627.6" cy="336" r="6" fill="#c09a80"/><rect x="598" y="312" width="7" height="20" fill="#1e1e1e" opacity="0.8"/><rect x="588" y="316" width="26" height="8" fill="#b0c8b0" opacity="0.5"/></g></g><g filter="url(#blurB)"><rect x="632" y="147.6" width="26.8" height="44.4" fill="#1c1c1c"/><rect x="637" y="150" width="4" height="36" fill="#333"/><rect x="634" y="184" width="22" height="8" fill="#3a3020"/><rect x="509" y="281" width="178.5" height="27" fill="#7a8a7e"/><rect x="511" y="283" width="176.5" height="24.5" fill="#141212"/><circle cx="514.0" cy="291.5" r="1.8" fill="#4a3430" opacity="0.9"/><circle cx="522.1" cy="291.5" r="1.8" fill="#4a3430" opacity="0.9"/><circle cx="530.2" cy="291.5" r="1.8" fill="#4a3430" opacity="0.9"/><circle cx="538.3" cy="291.5" r="1.8" fill="#4a3430" opacity="0.9"/><circle cx="546.4" cy="291.5" r="1.8" fill="#4a3430" opacity="0.9"/><circle cx="554.5" cy="291.5" r="1.8" fill="#4a3430" opacity="0.9"/><circle cx="562.6" cy="291.5" r="1.8" fill="#4a3430" opacity="0.9"/><circle cx="570.7" cy="291.5" r="1.8" fill="#4a3430" opacity="0.9"/><circle cx="578.8" cy="291.5" r="1.8" fill="#4a3430" opacity="0.9"/><circle cx="586.9" cy="291.5" r="1.8" fill="#4a3430" opacity="0.9"/><circle cx="595.0" cy="291.5" r="1.8" fill="#4a3430" opacity="0.9"/><circle cx="603.1" cy="291.5" r="1.8" fill="#4a3430" opacity="0.9"/><circle cx="611.2" cy="291.5" r="1.8" fill="#4a3430" opacity="0.9"/><circle cx="619.3" cy="291.5" r="1.8" fill="#4a3430" opacity="0.9"/><circle cx="627.4" cy="291.5" r="1.8" fill="#4a3430" opacity="0.9"/><circle cx="635.5" cy="291.5" r="1.8" fill="#4a3430" opacity="0.9"/><circle cx="643.6" cy="291.5" r="1.8" fill="#4a3430" opacity="0.9"/><circle cx="651.7" cy="291.5" r="1.8" fill="#4a3430" opacity="0.9"/><circle cx="659.8" cy="291.5" r="1.8" fill="#4a3430" opacity="0.9"/><circle cx="667.9" cy="291.5" r="1.8" fill="#4a3430" opacity="0.9"/><circle cx="676.0" cy="291.5" r="1.8" fill="#4a3430" opacity="0.9"/><circle cx="684.1" cy="291.5" r="1.8" fill="#4a3430" opacity="0.9"/><circle cx="514.0" cy="299.5" r="1.8" fill="#4a3430" opacity="0.9"/><circle cx="522.1" cy="299.5" r="1.8" fill="#4a3430" opacity="0.9"/><circle cx="530.2" cy="299.5" r="1.8" fill="#4a3430" opacity="0.9"/><circle cx="538.3" cy="299.5" r="1.8" fill="#4a3430" opacity="0.9"/><circle cx="546.4" cy="299.5" r="1.8" fill="#4a3430" opacity="0.9"/><circle cx="554.5" cy="299.5" r="1.8" fill="#4a3430" opacity="0.9"/><circle cx="562.6" cy="299.5" r="1.8" fill="#4a3430" opacity="0.9"/><circle cx="570.7" cy="299.5" r="1.8" fill="#4a3430" opacity="0.9"/><circle cx="578.8" cy="299.5" r="1.8" fill="#4a3430" opacity="0.9"/><circle cx="586.9" cy="299.5" r="1.8" fill="#4a3430" opacity="0.9"/><circle cx="595.0" cy="299.5" r="1.8" fill="#4a3430" opacity="0.9"/><circle cx="603.1" cy="299.5" r="1.8" fill="#4a3430" opacity="0.9"/><circle cx="611.2" cy="299.5" r="1.8" fill="#4a3430" opacity="0.9"/><circle cx="619.3" cy="299.5" r="1.8" fill="#4a3430" opacity="0.9"/><circle cx="627.4" cy="299.5" r="1.8" fill="#4a3430" opacity="0.9"/><circle cx="635.5" cy="299.5" r="1.8" fill="#4a3430" opacity="0.9"/><circle cx="643.6" cy="299.5" r="1.8" fill="#4a3430" opacity="0.9"/><circle cx="651.7" cy="299.5" r="1.8" fill="#4a3430" opacity="0.9"/><circle cx="659.8" cy="299.5" r="1.8" fill="#4a3430" opacity="0.9"/><circle cx="667.9" cy="299.5" r="1.8" fill="#4a3430" opacity="0.9"/><circle cx="676.0" cy="299.5" r="1.8" fill="#4a3430" opacity="0.9"/><circle cx="684.1" cy="299.5" r="1.8" fill="#4a3430" opacity="0.9"/></g>

<!-- /SDCB board -->
<!-- REF board -->
<rect x="806.7" y="99.6" width="107.6" height="124.9" fill="#386a40"/><g clip-path="url(#clipR)"><g filter="url(#blurBig)"><rect x="815" y="100" width="50" height="35" fill="#558a5a"/><rect x="850" y="180" width="60" height="40" fill="#3a6a42"/></g><rect x="806.7" y="99.6" width="108" height="125" filter="url(#noiseFine)" opacity="0.9"/><rect x="806.7" y="99.6" width="108" height="125" filter="url(#noiseDark2)"/><g filter="url(#blurR)"><rect x="809" y="103" width="6" height="2" fill="#a8c8aa" opacity="0.5"/><rect x="906" y="103" width="6" height="2" fill="#a8c8aa" opacity="0.5"/><rect x="809" y="108" width="6" height="2" fill="#a8c8aa" opacity="0.5"/><rect x="906" y="108" width="6" height="2" fill="#a8c8aa" opacity="0.5"/><rect x="809" y="113" width="6" height="2" fill="#a8c8aa" opacity="0.5"/><rect x="906" y="113" width="6" height="2" fill="#a8c8aa" opacity="0.5"/><rect x="809" y="118" width="6" height="2" fill="#a8c8aa" opacity="0.5"/><rect x="906" y="118" width="6" height="2" fill="#a8c8aa" opacity="0.5"/><rect x="809" y="123" width="6" height="2" fill="#a8c8aa" opacity="0.5"/><rect x="906" y="123" width="6" height="2" fill="#a8c8aa" opacity="0.5"/><rect x="809" y="128" width="6" height="2" fill="#a8c8aa" opacity="0.5"/><rect x="906" y="128" width="6" height="2" fill="#a8c8aa" opacity="0.5"/><rect x="809" y="133" width="6" height="2" fill="#a8c8aa" opacity="0.5"/><rect x="906" y="133" width="6" height="2" fill="#a8c8aa" opacity="0.5"/><rect x="809" y="138" width="6" height="2" fill="#a8c8aa" opacity="0.5"/><rect x="906" y="138" width="6" height="2" fill="#a8c8aa" opacity="0.5"/><rect x="809" y="143" width="6" height="2" fill="#a8c8aa" opacity="0.5"/><rect x="906" y="143" width="6" height="2" fill="#a8c8aa" opacity="0.5"/><rect x="809" y="148" width="6" height="2" fill="#a8c8aa" opacity="0.5"/><rect x="906" y="148" width="6" height="2" fill="#a8c8aa" opacity="0.5"/><rect x="809" y="153" width="6" height="2" fill="#a8c8aa" opacity="0.5"/><rect x="906" y="153" width="6" height="2" fill="#a8c8aa" opacity="0.5"/><rect x="809" y="158" width="6" height="2" fill="#a8c8aa" opacity="0.5"/><rect x="906" y="158" width="6" height="2" fill="#a8c8aa" opacity="0.5"/><rect x="809" y="163" width="6" height="2" fill="#a8c8aa" opacity="0.5"/><rect x="906" y="163" width="6" height="2" fill="#a8c8aa" opacity="0.5"/><rect x="809" y="168" width="6" height="2" fill="#a8c8aa" opacity="0.5"/><rect x="906" y="168" width="6" height="2" fill="#a8c8aa" opacity="0.5"/><rect x="809" y="173" width="6" height="2" fill="#a8c8aa" opacity="0.5"/><rect x="906" y="173" width="6" height="2" fill="#a8c8aa" opacity="0.5"/><rect x="809" y="178" width="6" height="2" fill="#a8c8aa" opacity="0.5"/><rect x="906" y="178" width="6" height="2" fill="#a8c8aa" opacity="0.5"/><rect x="809" y="183" width="6" height="2" fill="#a8c8aa" opacity="0.5"/><rect x="906" y="183" width="6" height="2" fill="#a8c8aa" opacity="0.5"/><rect x="809" y="188" width="6" height="2" fill="#a8c8aa" opacity="0.5"/><rect x="906" y="188" width="6" height="2" fill="#a8c8aa" opacity="0.5"/><rect x="809" y="193" width="6" height="2" fill="#a8c8aa" opacity="0.5"/><rect x="906" y="193" width="6" height="2" fill="#a8c8aa" opacity="0.5"/><rect x="809" y="198" width="6" height="2" fill="#a8c8aa" opacity="0.5"/><rect x="906" y="198" width="6" height="2" fill="#a8c8aa" opacity="0.5"/><rect x="809" y="203" width="6" height="2" fill="#a8c8aa" opacity="0.5"/><rect x="906" y="203" width="6" height="2" fill="#a8c8aa" opacity="0.5"/><rect x="809" y="208" width="6" height="2" fill="#a8c8aa" opacity="0.5"/><rect x="906" y="208" width="6" height="2" fill="#a8c8aa" opacity="0.5"/><rect x="809" y="213" width="6" height="2" fill="#a8c8aa" opacity="0.5"/><rect x="906" y="213" width="6" height="2" fill="#a8c8aa" opacity="0.5"/><rect x="809" y="218" width="6" height="2" fill="#a8c8aa" opacity="0.5"/><rect x="906" y="218" width="6" height="2" fill="#a8c8aa" opacity="0.5"/><circle cx="833" cy="105" r="2.6" fill="#b8a860" opacity="0.8"/><circle cx="850" cy="105" r="2.6" fill="#b8a860" opacity="0.8"/><path d="M834 123 q4 -11 17 -9 q8 2 10 8" fill="none" stroke="#b8d8bc" stroke-width="1.6" opacity="0.6"/><rect x="822" y="122" width="40" height="4" fill="#8ab890" opacity="0.45"/><rect x="826" y="136.5" width="72" height="4.5" fill="#6a7a6e"/><rect x="846.6" y="139.6" width="43.4" height="36.4" fill="#141414"/><rect x="856" y="145" width="5" height="27" fill="#3a3a3a"/><rect x="872" y="145" width="5" height="27" fill="#3a3a3a"/><rect x="819" y="147.7" width="27.6" height="24.3" fill="#8e8e8e"/><rect x="822" y="150.5" width="21" height="18" fill="#a8a8a8"/><rect x="826" y="172" width="72" height="5" fill="#5a6a5e"/><rect x="891" y="140" width="6" height="35" fill="#5a665c"/><ellipse cx="884" cy="184" rx="6.5" ry="4.2" fill="#4a6aa0" opacity="0.85"/><rect x="837.5" y="190" width="16.1" height="26.4" fill="#161616"/><rect x="840" y="193.0" width="11" height="1.6" fill="#454545"/><rect x="840" y="197.8" width="11" height="1.6" fill="#454545"/><rect x="840" y="202.6" width="11" height="1.6" fill="#454545"/><rect x="840" y="207.4" width="11" height="1.6" fill="#454545"/><rect x="840" y="212.2" width="11" height="1.6" fill="#454545"/><rect x="862" y="196" width="30" height="3" fill="#9ac0a0" opacity="0.4"/><rect x="866" y="203" width="26" height="3" fill="#9ac0a0" opacity="0.4"/></g></g><g filter="url(#blurR)"><path d="M865.8 126.4 V100 Q865.8 92 876.4 92 Q887.0 92 887.0 100 V126.4 Z" fill="#1b1b1b"/><circle cx="876.4" cy="104" r="7" fill="#2c2c2c"/><circle cx="876.4" cy="104" r="3" fill="#111"/><rect x="867.8" y="112" width="17" height="12" fill="#262626"/><path d="M867.8 100 Q869.8 94 875.8 93.5" fill="none" stroke="#6a6a6a" stroke-width="1.2" opacity="0.8"/><path d="M892 126.4 V100 Q892 92 902.6 92 Q913.2 92 913.2 100 V126.4 Z" fill="#1b1b1b"/><circle cx="902.6" cy="104" r="7" fill="#2c2c2c"/><circle cx="902.6" cy="104" r="3" fill="#111"/><rect x="894" y="112" width="17" height="12" fill="#262626"/><path d="M894 100 Q896 94 902 93.5" fill="none" stroke="#6a6a6a" stroke-width="1.2" opacity="0.8"/></g>

<!-- /REF board -->
<!-- USB cable -->
<rect x="287" y="270.3" width="100" height="3.5" fill="#1e1e1e"/>
<rect x="254.6" y="262.8" width="11" height="18.6" rx="1" fill="url(#gMetalV)" stroke="#1e1e1e" stroke-width="1"/>
<rect x="265.5" y="260.2" width="22.2" height="23" fill="url(#gPlugV)" stroke="#1e1e1e" stroke-width="1"/>
<rect x="386.1" y="265.3" width="15.6" height="14" fill="url(#gPlugV)" stroke="#1e1e1e" stroke-width="1"/>
<rect x="401.7" y="266.5" width="8" height="10.8" fill="url(#gMetalV)" stroke="#1e1e1e" stroke-width="1"/>
<!-- power cable -->
<path d="M621 375 V424.2 H681" fill="none" stroke="#1e1e1e" stroke-width="3.3"/>
<rect x="615.5" y="355.4" width="10.6" height="4" fill="#f0f0f0" stroke="#1e1e1e" stroke-width="1"/>
<rect x="613.4" y="358.6" width="14.8" height="16.2" rx="1" fill="url(#gPlug)" stroke="#1e1e1e" stroke-width="1"/>
<rect x="701" y="417.2" width="13.6" height="3.6" fill="#f0f0f0" stroke="#1e1e1e" stroke-width="1"/>
<rect x="701" y="427.6" width="13.6" height="3.6" fill="#f0f0f0" stroke="#1e1e1e" stroke-width="1"/>
<rect x="680.6" y="415.8" width="20.6" height="17.6" rx="1" fill="url(#gPlugV)" stroke="#1e1e1e" stroke-width="1"/>

<!-- dashed boxes -->
<g fill="#e07a62"><rect x="222.50" y="1.60" width="8.00" height="4.6"/><rect x="239.03" y="1.60" width="12.50" height="4.6"/><rect x="260.05" y="1.60" width="12.50" height="4.6"/><rect x="281.08" y="1.60" width="12.50" height="4.6"/><rect x="302.10" y="1.60" width="12.50" height="4.6"/><rect x="323.13" y="1.60" width="12.50" height="4.6"/><rect x="344.16" y="1.60" width="12.50" height="4.6"/><rect x="365.18" y="1.60" width="12.50" height="4.6"/><rect x="386.21" y="1.60" width="12.50" height="4.6"/><rect x="407.23" y="1.60" width="12.50" height="4.6"/><rect x="428.26" y="1.60" width="12.50" height="4.6"/><rect x="449.29" y="1.60" width="12.50" height="4.6"/><rect x="470.31" y="1.60" width="12.50" height="4.6"/><rect x="491.34" y="1.60" width="12.50" height="4.6"/><rect x="512.37" y="1.60" width="12.50" height="4.6"/><rect x="533.39" y="1.60" width="12.50" height="4.6"/><rect x="554.42" y="1.60" width="12.50" height="4.6"/><rect x="575.44" y="1.60" width="12.50" height="4.6"/><rect x="596.47" y="1.60" width="12.50" height="4.6"/><rect x="617.50" y="1.60" width="12.50" height="4.6"/><rect x="638.52" y="1.60" width="12.50" height="4.6"/><rect x="659.55" y="1.60" width="12.50" height="4.6"/><rect x="680.57" y="1.60" width="12.50" height="4.6"/><rect x="701.60" y="1.60" width="8.00" height="4.6"/><rect x="705.00" y="1.60" width="4.6" height="8.00"/><rect x="705.00" y="19.04" width="4.6" height="12.50"/><rect x="705.00" y="40.99" width="4.6" height="12.50"/><rect x="705.00" y="62.93" width="4.6" height="12.50"/><rect x="705.00" y="84.87" width="4.6" height="12.50"/><rect x="705.00" y="106.81" width="4.6" height="12.50"/><rect x="705.00" y="128.76" width="4.6" height="12.50"/><rect x="705.00" y="150.70" width="4.6" height="12.50"/><rect x="705.00" y="172.64" width="4.6" height="12.50"/><rect x="705.00" y="194.59" width="4.6" height="12.50"/><rect x="705.00" y="216.53" width="4.6" height="12.50"/><rect x="705.00" y="238.47" width="4.6" height="12.50"/><rect x="705.00" y="260.41" width="4.6" height="12.50"/><rect x="705.00" y="282.36" width="4.6" height="12.50"/><rect x="705.00" y="304.30" width="4.6" height="8.00"/><rect x="705.00" y="307.70" width="8.00" height="4.6"/><rect x="721.11" y="307.70" width="12.50" height="4.6"/><rect x="741.71" y="307.70" width="12.50" height="4.6"/><rect x="762.32" y="307.70" width="12.50" height="4.6"/><rect x="782.93" y="307.70" width="12.50" height="4.6"/><rect x="803.54" y="307.70" width="12.50" height="4.6"/><rect x="824.14" y="307.70" width="12.50" height="4.6"/><rect x="844.75" y="307.70" width="12.50" height="4.6"/><rect x="865.36" y="307.70" width="12.50" height="4.6"/><rect x="885.96" y="307.70" width="12.50" height="4.6"/><rect x="906.57" y="307.70" width="12.50" height="4.6"/><rect x="927.18" y="307.70" width="12.50" height="4.6"/><rect x="947.79" y="307.70" width="12.50" height="4.6"/><rect x="968.39" y="307.70" width="12.50" height="4.6"/><rect x="989.00" y="307.70" width="8.00" height="4.6"/><rect x="992.40" y="307.70" width="4.6" height="8.00"/><rect x="992.40" y="324.57" width="4.6" height="12.50"/><rect x="992.40" y="345.93" width="4.6" height="12.50"/><rect x="992.40" y="367.30" width="4.6" height="12.50"/><rect x="992.40" y="388.67" width="4.6" height="12.50"/><rect x="992.40" y="410.03" width="4.6" height="12.50"/><rect x="992.40" y="431.40" width="4.6" height="12.50"/><rect x="992.40" y="452.77" width="4.6" height="12.50"/><rect x="992.40" y="474.13" width="4.6" height="12.50"/><rect x="992.40" y="495.50" width="4.6" height="8.00"/><rect x="222.50" y="498.90" width="8.00" height="4.6"/><rect x="238.84" y="498.90" width="12.50" height="4.6"/><rect x="259.68" y="498.90" width="12.50" height="4.6"/><rect x="280.51" y="498.90" width="12.50" height="4.6"/><rect x="301.35" y="498.90" width="12.50" height="4.6"/><rect x="322.19" y="498.90" width="12.50" height="4.6"/><rect x="343.03" y="498.90" width="12.50" height="4.6"/><rect x="363.86" y="498.90" width="12.50" height="4.6"/><rect x="384.70" y="498.90" width="12.50" height="4.6"/><rect x="405.54" y="498.90" width="12.50" height="4.6"/><rect x="426.38" y="498.90" width="12.50" height="4.6"/><rect x="447.22" y="498.90" width="12.50" height="4.6"/><rect x="468.05" y="498.90" width="12.50" height="4.6"/><rect x="488.89" y="498.90" width="12.50" height="4.6"/><rect x="509.73" y="498.90" width="12.50" height="4.6"/><rect x="530.57" y="498.90" width="12.50" height="4.6"/><rect x="551.41" y="498.90" width="12.50" height="4.6"/><rect x="572.24" y="498.90" width="12.50" height="4.6"/><rect x="593.08" y="498.90" width="12.50" height="4.6"/><rect x="613.92" y="498.90" width="12.50" height="4.6"/><rect x="634.76" y="498.90" width="12.50" height="4.6"/><rect x="655.59" y="498.90" width="12.50" height="4.6"/><rect x="676.43" y="498.90" width="12.50" height="4.6"/><rect x="697.27" y="498.90" width="12.50" height="4.6"/><rect x="718.11" y="498.90" width="12.50" height="4.6"/><rect x="738.95" y="498.90" width="12.50" height="4.6"/><rect x="759.78" y="498.90" width="12.50" height="4.6"/><rect x="780.62" y="498.90" width="12.50" height="4.6"/><rect x="801.46" y="498.90" width="12.50" height="4.6"/><rect x="822.30" y="498.90" width="12.50" height="4.6"/><rect x="843.14" y="498.90" width="12.50" height="4.6"/><rect x="863.97" y="498.90" width="12.50" height="4.6"/><rect x="884.81" y="498.90" width="12.50" height="4.6"/><rect x="905.65" y="498.90" width="12.50" height="4.6"/><rect x="926.49" y="498.90" width="12.50" height="4.6"/><rect x="947.32" y="498.90" width="12.50" height="4.6"/><rect x="968.16" y="498.90" width="12.50" height="4.6"/><rect x="989.00" y="498.90" width="8.00" height="4.6"/><rect x="222.50" y="1.60" width="4.6" height="8.00"/><rect x="222.50" y="17.87" width="4.6" height="12.50"/><rect x="222.50" y="38.63" width="4.6" height="12.50"/><rect x="222.50" y="59.40" width="4.6" height="12.50"/><rect x="222.50" y="80.17" width="4.6" height="12.50"/><rect x="222.50" y="100.93" width="4.6" height="12.50"/><rect x="222.50" y="121.70" width="4.6" height="12.50"/><rect x="222.50" y="142.47" width="4.6" height="12.50"/><rect x="222.50" y="163.23" width="4.6" height="12.50"/><rect x="222.50" y="184.00" width="4.6" height="12.50"/><rect x="222.50" y="204.77" width="4.6" height="12.50"/><rect x="222.50" y="225.53" width="4.6" height="12.50"/><rect x="222.50" y="246.30" width="4.6" height="12.50"/><rect x="222.50" y="267.07" width="4.6" height="12.50"/><rect x="222.50" y="287.83" width="4.6" height="12.50"/><rect x="222.50" y="308.60" width="4.6" height="12.50"/><rect x="222.50" y="329.37" width="4.6" height="12.50"/><rect x="222.50" y="350.13" width="4.6" height="12.50"/><rect x="222.50" y="370.90" width="4.6" height="12.50"/><rect x="222.50" y="391.67" width="4.6" height="12.50"/><rect x="222.50" y="412.43" width="4.6" height="12.50"/><rect x="222.50" y="433.20" width="4.6" height="12.50"/><rect x="222.50" y="453.97" width="4.6" height="12.50"/><rect x="222.50" y="474.73" width="4.6" height="12.50"/><rect x="222.50" y="495.50" width="4.6" height="8.00"/><rect x="716.20" y="1.60" width="8.00" height="4.6"/><rect x="733.07" y="1.60" width="12.50" height="4.6"/><rect x="754.44" y="1.60" width="12.50" height="4.6"/><rect x="775.81" y="1.60" width="12.50" height="4.6"/><rect x="797.18" y="1.60" width="12.50" height="4.6"/><rect x="818.55" y="1.60" width="12.50" height="4.6"/><rect x="839.92" y="1.60" width="12.50" height="4.6"/><rect x="861.28" y="1.60" width="12.50" height="4.6"/><rect x="882.65" y="1.60" width="12.50" height="4.6"/><rect x="904.02" y="1.60" width="12.50" height="4.6"/><rect x="925.39" y="1.60" width="12.50" height="4.6"/><rect x="946.76" y="1.60" width="12.50" height="4.6"/><rect x="968.13" y="1.60" width="12.50" height="4.6"/><rect x="989.50" y="1.60" width="8.00" height="4.6"/><rect x="992.90" y="1.60" width="4.6" height="8.00"/><rect x="992.90" y="18.28" width="4.6" height="12.50"/><rect x="992.90" y="39.46" width="4.6" height="12.50"/><rect x="992.90" y="60.64" width="4.6" height="12.50"/><rect x="992.90" y="81.81" width="4.6" height="12.50"/><rect x="992.90" y="102.99" width="4.6" height="12.50"/><rect x="992.90" y="124.17" width="4.6" height="12.50"/><rect x="992.90" y="145.35" width="4.6" height="12.50"/><rect x="992.90" y="166.53" width="4.6" height="12.50"/><rect x="992.90" y="187.71" width="4.6" height="12.50"/><rect x="992.90" y="208.89" width="4.6" height="12.50"/><rect x="992.90" y="230.06" width="4.6" height="12.50"/><rect x="992.90" y="251.24" width="4.6" height="12.50"/><rect x="992.90" y="272.42" width="4.6" height="12.50"/><rect x="992.90" y="293.60" width="4.6" height="8.00"/><rect x="716.20" y="297.00" width="8.00" height="4.6"/><rect x="733.07" y="297.00" width="12.50" height="4.6"/><rect x="754.44" y="297.00" width="12.50" height="4.6"/><rect x="775.81" y="297.00" width="12.50" height="4.6"/><rect x="797.18" y="297.00" width="12.50" height="4.6"/><rect x="818.55" y="297.00" width="12.50" height="4.6"/><rect x="839.92" y="297.00" width="12.50" height="4.6"/><rect x="861.28" y="297.00" width="12.50" height="4.6"/><rect x="882.65" y="297.00" width="12.50" height="4.6"/><rect x="904.02" y="297.00" width="12.50" height="4.6"/><rect x="925.39" y="297.00" width="12.50" height="4.6"/><rect x="946.76" y="297.00" width="12.50" height="4.6"/><rect x="968.13" y="297.00" width="12.50" height="4.6"/><rect x="989.50" y="297.00" width="8.00" height="4.6"/><rect x="716.20" y="1.60" width="4.6" height="8.00"/><rect x="716.20" y="18.28" width="4.6" height="12.50"/><rect x="716.20" y="39.46" width="4.6" height="12.50"/><rect x="716.20" y="60.64" width="4.6" height="12.50"/><rect x="716.20" y="81.81" width="4.6" height="12.50"/><rect x="716.20" y="102.99" width="4.6" height="12.50"/><rect x="716.20" y="124.17" width="4.6" height="12.50"/><rect x="716.20" y="145.35" width="4.6" height="12.50"/><rect x="716.20" y="166.53" width="4.6" height="12.50"/><rect x="716.20" y="187.71" width="4.6" height="12.50"/><rect x="716.20" y="208.89" width="4.6" height="12.50"/><rect x="716.20" y="230.06" width="4.6" height="12.50"/><rect x="716.20" y="251.24" width="4.6" height="12.50"/><rect x="716.20" y="272.42" width="4.6" height="12.50"/><rect x="716.20" y="293.60" width="4.6" height="8.00"/></g>

<!-- callout -->
<path d="M39.5 51.5 H264 V103 H172.4 L160.5 134 L148.6 103 H39.5 Z" fill="#fff" stroke="#e07a62" stroke-width="4"/>
<text x="59" y="86.5" font-size="21.4" fill="#df7c66" stroke="#fff" stroke-width="0.2" textLength="181" lengthAdjust="spacingAndGlyphs">Speech LSI Utility</text>

<!-- arrows -->
<polygon points="225.9,102.8 243.2,120.4 195.8,152.4 200.2,161.9 157.8,163.6 176.2,126.2 183.5,134" fill="#e07a62"/>
<polygon points="785.2,140.7 800.5,155 761.4,199 768.3,205.2 727.3,217.4 737.6,176 744.5,182.1" fill="#e07a62"/>

<!-- labels -->
<g fill="#485d6f" stroke="#fff" stroke-width="0.4">
<text x="13" y="149.5" font-size="29.5" textLength="38.5" lengthAdjust="spacingAndGlyphs">PC</text>
<text x="12" y="360" font-size="29.5" textLength="60" lengthAdjust="spacingAndGlyphs">Amp</text>
<text x="59" y="710.7" font-size="28.2" textLength="107.5" lengthAdjust="spacingAndGlyphs">Speaker</text>
<text x="272" y="325.5" font-size="27.4" textLength="122" lengthAdjust="spacingAndGlyphs">USB cable</text>
<text x="272" y="359.2" font-size="27.4" textLength="112" lengthAdjust="spacingAndGlyphs">[included]</text>
<text x="528" y="467.6" font-size="27" textLength="383" lengthAdjust="spacingAndGlyphs">Power supply cable [included]</text>
<text x="657" y="710.8" font-size="28.5" textLength="421" lengthAdjust="spacingAndGlyphs">Dynamic speakers 8Ω and above</text>
</g>
<g fill="#44596b" stroke="#fff" stroke-width="0.15">
<text x="732" y="52.4" font-size="27.4" textLength="252" lengthAdjust="spacingAndGlyphs">ML22620 Reference</text>
<text x="809" y="79.6" font-size="26.6" textLength="75" lengthAdjust="spacingAndGlyphs">Board</text>
</g>
<text x="512" y="133.7" font-size="29.6" font-weight="bold" fill="#1f5ca3" textLength="100" lengthAdjust="spacingAndGlyphs">SDCB3</text>
<g fill="#c8323f">
<text x="737" y="252" font-size="25.6" textLength="240" lengthAdjust="spacingAndGlyphs">The Reference Board is</text>
<text x="735" y="283.5" font-size="25" textLength="241" lengthAdjust="spacingAndGlyphs">mounted on the SDCB</text>
</g>
<g fill="#1a56a0" stroke="#fff" stroke-width="0.35">
<text x="163" y="628.2" font-size="25.2" textLength="302" lengthAdjust="spacingAndGlyphs">Waveform/Phrase editing</text>
<text x="194" y="659.6" font-size="25.5" textLength="237" lengthAdjust="spacingAndGlyphs">Listening evaluation</text>
<text x="771" y="628" font-size="24.8" textLength="209" lengthAdjust="spacingAndGlyphs">Device evaluation</text>
</g>

</svg>
</body></html>
